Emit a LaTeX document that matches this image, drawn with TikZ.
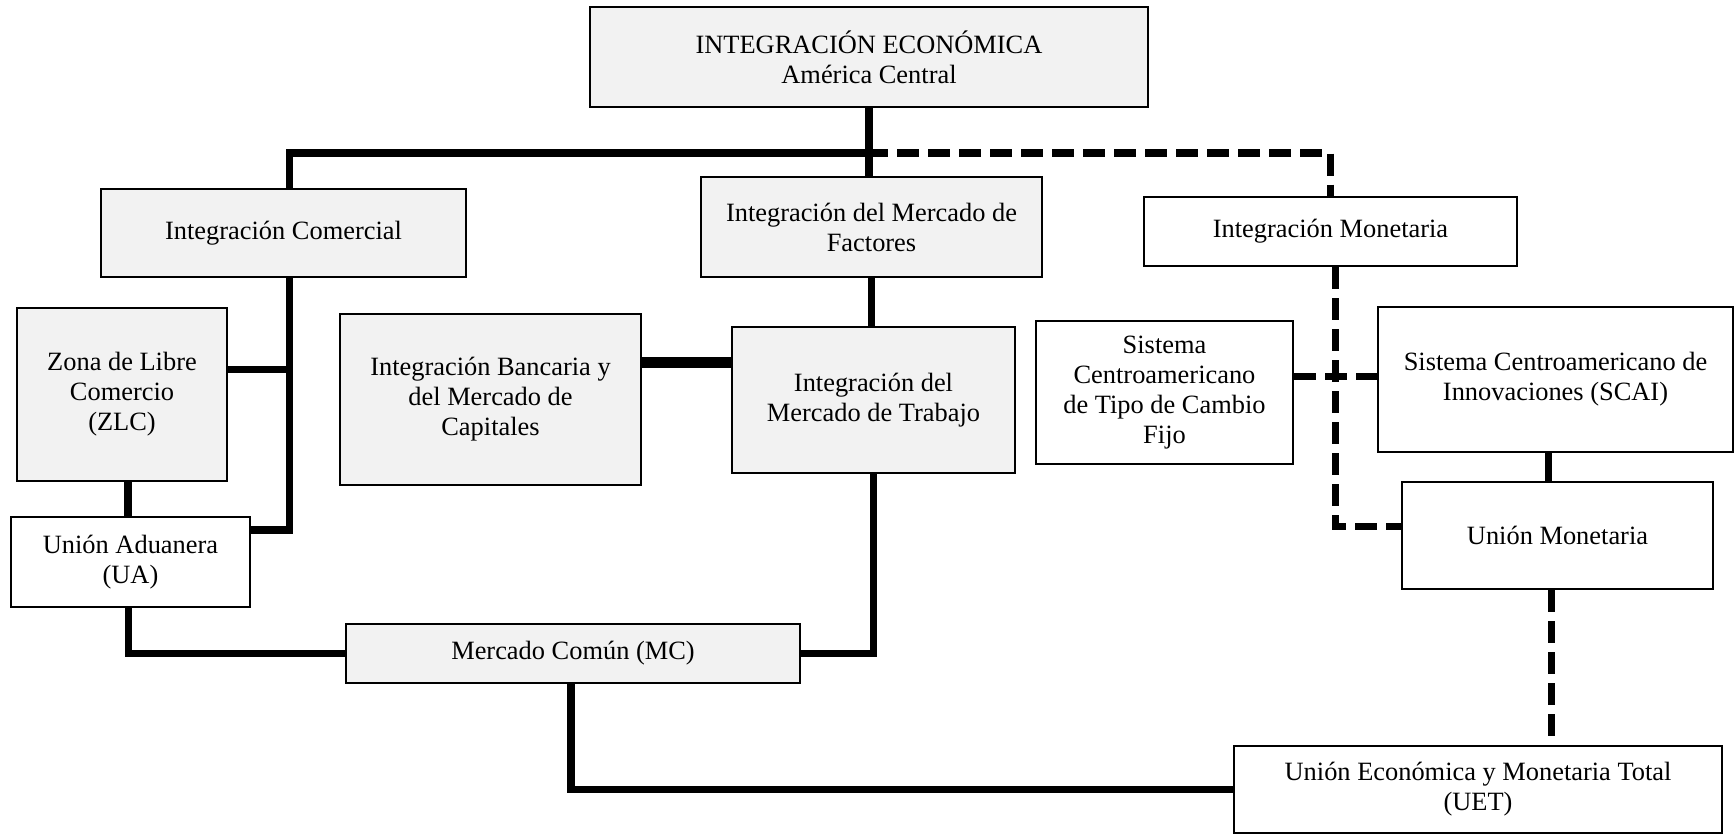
\documentclass[tikz,border=0pt]{standalone}
\usepackage{fontspec}
\setmainfont{Liberation Serif}
\usepackage{xcolor}
\usepackage{tikz}
\definecolor{boxgrey}{RGB}{242,242,242}

\begin{document}
\begin{tikzpicture}[x=0.5pt,y=-0.5pt,font=\fontsize{13.2}{15}\selectfont]
	\tikzstyle{box} = [draw,line width=1.2pt,align=center,inner sep=2pt]
	\tikzstyle{grey box} = [box,fill=boxgrey]
	\tikzstyle{link} = [line width=3.6pt]
	\tikzstyle{dlink} = [link,dash pattern=on 11pt off 4.5pt]
	\useasboundingbox (0,0) rectangle (1735,836);
	% first level
	\node[grey box,minimum width=279pt,minimum height=50pt]	(top) at (869,57)		{INTEGRACIÓN ECONÓMICA\\América Central};
	\node[grey box,minimum width=182.5pt,minimum height=44pt]	(com) at (283.5,233)	{Integración Comercial};
	\node[grey box,minimum width=170.5pt,minimum height=50pt]	(fac) at (871.5,227)	{Integración del Mercado de\\Factores};
	\node[box,minimum width=186.5pt,minimum height=34.5pt]		(mon) at (1330.5,231.5)	{Integración Monetaria};
	% second level
	\node[grey box,minimum width=105pt,minimum height=86.5pt]	(zlc) at (122,394.5)	{Zona de Libre\\Comercio\\(ZLC)};
	\node[grey box,minimum width=150.5pt,minimum height=85.5pt]	(ban) at (490.5,399.5)	{Integración Bancaria y\\del Mercado de\\Capitales};
	\node[grey box,minimum width=141.5pt,minimum height=73pt]	(tra) at (873.5,400)	{Integración del\\Mercado de Trabajo};
	\node[box,minimum width=128.5pt,minimum height=71.5pt]		(fij) at (1164.5,392.5)	{Sistema\\Centroamericano\\de Tipo de Cambio\\Fijo};
	\node[box,minimum width=177.5pt,minimum height=72.5pt]		(scai) at (1555.5,379.5)	{Sistema Centroamericano de\\Innovaciones (SCAI)};
	% lower levels
	\node[box,minimum width=119.5pt,minimum height=45pt]		(ua) at (130.5,562)		{Unión Aduanera\\(UA)};
	\node[box,minimum width=155.5pt,minimum height=53.5pt]		(um) at (1557.5,535.5)	{Unión Monetaria};
	\node[grey box,minimum width=227pt,minimum height=29.5pt]	(mc) at (573,653.5)		{Mercado Común (MC)};
	\node[box,minimum width=244pt,minimum height=43.5pt]		(uet) at (1478,789.5)	{Unión Económica y Monetaria Total\\(UET)};
	\coordinate (split) at (866,153);
	% solid links
	\draw[link] (top.south) -- (top.south |- fac.north);
	\draw[link] (split) -| ([xshift=3pt]com.north);
	\draw[link] ([xshift=3pt]com.south) |- ([yshift=16pt]ua.east);
	\draw[link] ([yshift=12.5pt]zlc.east) -| ([xshift=3pt]com.south);
	\draw[link] ([xshift=3pt]zlc.south) -- ([xshift=3pt]zlc.south |- ua.north);
	\draw[link] ([xshift=-1pt]ua.south) |- (mc.west);
	\draw[link] (mc.east) -| (tra.south);
	\draw[link] ([xshift=-1pt]mc.south) |- (uet.west);
	\draw[link] (fac.south) -- (fac.south |- tra.north);
	\draw[line width=5.5pt] ([yshift=18.5pt]ban.east) -- ([yshift=18.5pt]ban.east -| tra.west);
	\draw[link] ([xshift=-3.5pt]scai.south) -- ([xshift=-3.5pt]scai.south |- um.north);
	% dashed links
	\draw[dlink] (split) -| (mon.north);
	\draw[dlink] ([xshift=2.5pt]mon.south) |- ([yshift=4.5pt]um.west);
	\draw[dlink] ([yshift=8pt]fij.east) -- ([yshift=8pt]fij.east -| scai.west);
	\draw[dlink] ([xshift=-3pt]um.south) -- ([xshift=-3pt]um.south |- uet.north);
\end{tikzpicture}
\end{document}
